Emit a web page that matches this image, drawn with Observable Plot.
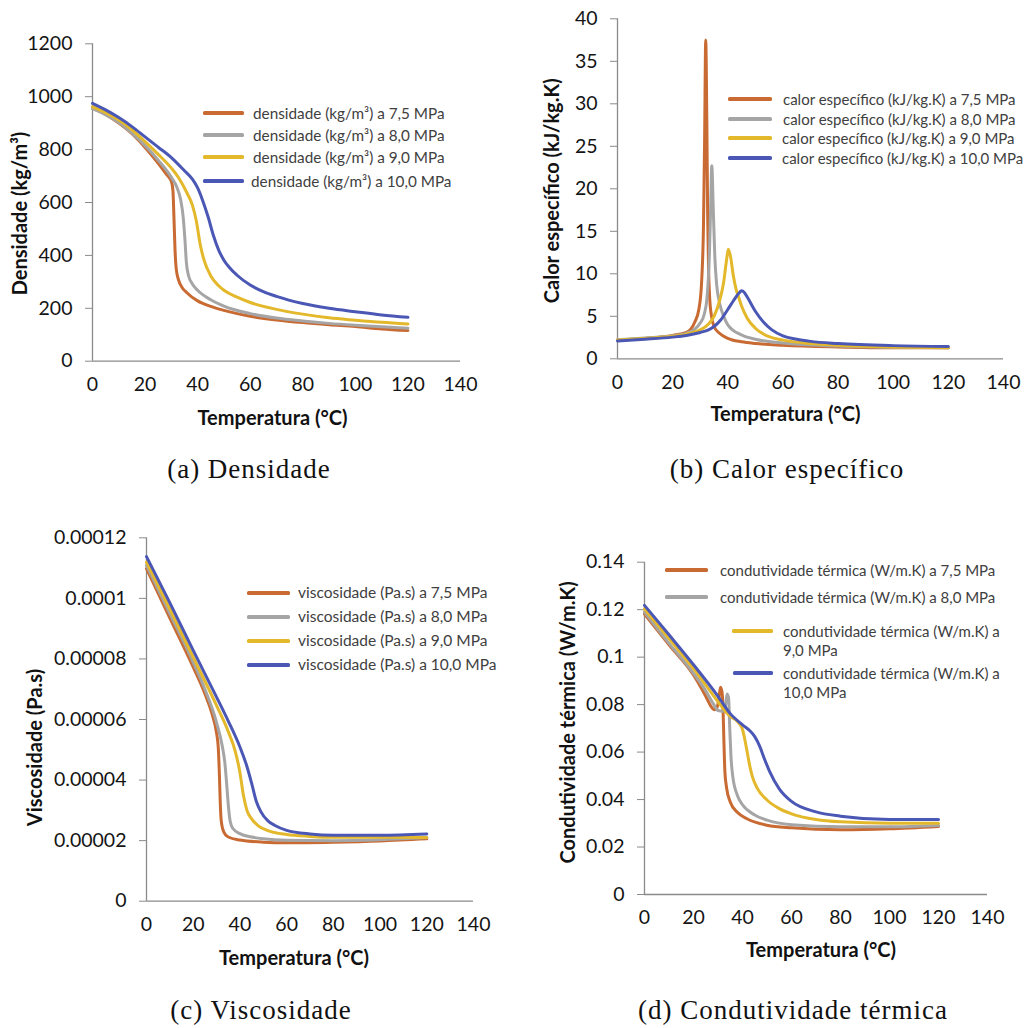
<!DOCTYPE html>
<html>
<head>
<meta charset="utf-8">
<script src="https://cdn.jsdelivr.net/npm/d3@7"></script>
<script src="https://cdn.jsdelivr.net/npm/@observablehq/plot@0.6"></script>
<style>
  html, body { margin: 0; padding: 0; background: #fff; }
  #root { position: relative; width: 1031px; height: 1028px; overflow: hidden; background: #fff; }
  .panel { position: absolute; }
  .legend { position: absolute; font-family: Lato, "Open Sans", sans-serif; color: #404040; white-space: nowrap; }
  .caption { position: absolute; font-family: "Liberation Serif", "DejaVu Serif", serif; font-size: 27px; line-height: 1; color: #111; letter-spacing: 1px; white-space: nowrap; transform: translateX(-50%); }
</style>
</head>
<body>
<div id="root"></div>
<script>
// ---------- DATA ----------
const pressures = ["7,5 MPa", "8,0 MPa", "9,0 MPa", "10,0 MPa"];
const seriesColors = ["#C86A32", "#A5A5A5", "#E4B82B", "#4B57B4"];
const xTicks = [0, 20, 40, 60, 80, 100, 120, 140];

// (a) Densidade (kg/m³) vs Temperatura (°C)
const dens75 = [[0,958],[5,933],[10,900],[15,860],[20,808],[25,748],[28,708],[30,680],[30.6,645],[31.0,540],[31.4,420],[31.9,345],[32.8,305],[34,280],[36,258],[40,228],[45,207],[50,192],[60,170],[70,156],[80,146],[90,138],[100,131],[110,122],[120,116]];
const dens80 = [[0,955],[5,932],[10,902],[15,862],[20,815],[25,760],[30,695],[32,660],[33.5,612],[34.5,545],[35.2,455],[35.7,375],[36.5,325],[38,292],[40,268],[45,232],[50,208],[60,180],[70,163],[80,152],[90,143],[100,136],[110,130],[120,125]];
const dens90 = [[0,962],[5,940],[10,912],[15,875],[20,830],[25,782],[30,730],[33,690],[36,635],[38,590],[39.5,530],[41,440],[42.5,380],[45,322],[48,285],[50,268],[55,242],[60,222],[70,196],[80,178],[90,164],[100,155],[110,147],[120,141]];
const dens100 = [[0,975],[5,950],[10,921],[15,887],[20,848],[25,809],[30,770],[35,720],[38,688],[40,655],[42,605],[44,545],[46,475],[48,420],[50,382],[52,355],[55,325],[60,288],[65,263],[70,245],[80,218],[90,200],[100,187],[110,175],[120,166]];
const densYTicks = [0, 200, 400, 600, 800, 1000, 1200];

// (b) Calor específico (kJ/kg.K)
const cp75 = [[0,2.2],[10,2.4],[20,2.75],[25,3.1],[28,4.3],[29.5,5.8],[30.5,9],[31.2,16],[31.6,26],[32,37.5],[32.4,28],[32.7,17],[33,11],[33.5,6.8],[34,5.2],[35,3.8],[37,3],[40,2.4],[45,2.0],[50,1.8],[60,1.6],[80,1.4],[100,1.3],[120,1.3]];
const cp80 = [[0,2.25],[10,2.45],[20,2.7],[25,3.0],[28,3.5],[30,4.2],[31.5,5.3],[32.5,7.3],[33.3,12],[33.8,18],[34.2,22.7],[34.7,18],[35.3,12],[36,8.6],[37,6.6],[38.5,5],[40,4],[45,2.8],[50,2.3],[60,1.85],[80,1.5],[100,1.35],[120,1.3]];
const cp90 = [[0,2.2],[10,2.4],[20,2.65],[25,2.9],[30,3.4],[33,4.1],[35,5],[37,6.8],[38.5,9],[39.5,11.5],[40.2,12.9],[41,12],[42,9.8],[43,8.2],[44,7.2],[45,6.2],[47,4.8],[50,3.6],[55,2.6],[60,2.2],[70,1.8],[80,1.6],[100,1.4],[120,1.3]];
const cp100 = [[0,2.1],[10,2.3],[20,2.55],[25,2.75],[30,3.1],[33,3.4],[35,3.8],[37.5,4.6],[40,5.8],[42,6.8],[44,7.7],[45,8],[46,7.8],[47,7.3],[50,5.6],[53,4.3],[56,3.4],[60,2.7],[65,2.3],[70,2.05],[80,1.8],[100,1.55],[120,1.45]];
const cpYTicks = [0, 5, 10, 15, 20, 25, 30, 35, 40];

// (c) Viscosidade (Pa.s)
const visc75 = [[0,10.98e-5],[10,9.35e-5],[20,7.73e-5],[25,6.85e-5],[28,6.2e-5],[30,5.55e-5],[30.7,5.1e-5],[31.2,4.2e-5],[31.6,3.2e-5],[32,2.65e-5],[33,2.3e-5],[35,2.12e-5],[40,2.02e-5],[50,1.95e-5],[60,1.93e-5],[80,1.95e-5],[100,1.99e-5],[120,2.06e-5]];
const visc80 = [[0,11.09e-5],[10,9.5e-5],[20,7.89e-5],[25,7.0e-5],[30,5.9e-5],[32.5,5.1e-5],[33.5,4.6e-5],[34.3,3.9e-5],[35,3.2e-5],[35.8,2.65e-5],[37,2.4e-5],[40,2.23e-5],[45,2.12e-5],[50,2.06e-5],[60,2.01e-5],[80,2.0e-5],[100,2.03e-5],[120,2.1e-5]];
const visc90 = [[0,11.2e-5],[10,9.65e-5],[20,8.06e-5],[30,6.46e-5],[35,5.6e-5],[38,4.95e-5],[40,4.25e-5],[41.5,3.5e-5],[43,3.0e-5],[45,2.72e-5],[48,2.48e-5],[52,2.33e-5],[60,2.2e-5],[70,2.14e-5],[80,2.11e-5],[100,2.11e-5],[120,2.1e-5]];
const visc100 = [[0,11.38e-5],[10,9.85e-5],[20,8.28e-5],[30,6.74e-5],[35,5.95e-5],[40,5.09e-5],[43,4.45e-5],[45,3.9e-5],[47,3.3e-5],[49,2.95e-5],[52,2.65e-5],[55,2.5e-5],[60,2.34e-5],[70,2.22e-5],[80,2.18e-5],[100,2.18e-5],[120,2.22e-5]];
const viscYTicks = [0, 0.00002, 0.00004, 0.00006, 0.00008, 0.0001, 0.00012];

// (d) Condutividade térmica (W/m.K)
const cond75 = [[0,0.1182],[10,0.1052],[20,0.0925],[25,0.0835],[27,0.0795],[28.5,0.0778],[29.5,0.0785],[30.3,0.082],[31,0.0873],[31.6,0.0855],[32,0.08],[32.4,0.065],[32.8,0.052],[33.5,0.045],[35,0.039],[38,0.0345],[42,0.0318],[50,0.0292],[60,0.0281],[80,0.0273],[100,0.0277],[120,0.0287]];
const cond80 = [[0,0.119],[10,0.1058],[20,0.0932],[25,0.0858],[28,0.0805],[30,0.0775],[32,0.0772],[33,0.079],[33.7,0.0845],[34.3,0.083],[34.8,0.07],[35.3,0.058],[36,0.05],[38,0.0415],[40,0.0378],[45,0.0335],[50,0.0313],[60,0.0294],[80,0.0285],[100,0.0285],[120,0.0291]];
const cond90 = [[0,0.1203],[10,0.1078],[20,0.0952],[30,0.0812],[33,0.0772],[35,0.075],[38,0.0728],[40,0.0695],[41,0.065],[42,0.0595],[43,0.054],[44,0.0498],[46,0.0448],[50,0.0398],[55,0.0362],[60,0.034],[70,0.0316],[80,0.0306],[100,0.03],[120,0.03]];
const cond100 = [[0,0.1218],[10,0.1094],[20,0.0968],[30,0.0835],[35,0.0762],[40,0.0715],[43,0.069],[45,0.0665],[47,0.0625],[49,0.057],[51,0.052],[55,0.0445],[60,0.0392],[70,0.0348],[80,0.033],[100,0.0316],[120,0.0316]];
const condYTicks = [0, 0.02, 0.04, 0.06, 0.08, 0.1, 0.12, 0.14];

const xLabel = "Temperatura (°C)";

// ---------- BUILD ----------
const root = document.getElementById("root");
const fmtNum = d => d === 0 ? "0" : String(+d.toFixed(6));

function makePanel(cfg) {
  const names = pressures.map(p => cfg.legendPrefix + " a " + p);
  const rows = [];
  cfg.series.forEach((arr, i) => arr.forEach(([t, v]) => rows.push({t, v, s: names[i]})));
  const W = cfg.W, H = cfg.H;
  const mL = cfg.yaxisX - cfg.L, mR = cfg.L + W - cfg.x140;
  const mT = cfg.yTopPx - cfg.T, mB = cfg.T + H - cfg.y0Px;
  const svg = Plot.plot({
    width: W, height: H,
    marginLeft: mL, marginRight: mR, marginTop: mT, marginBottom: mB,
    style: {fontFamily: "Lato, 'Open Sans', sans-serif", fontSize: "19px", background: "transparent", overflow: "visible"},
    x: {domain: [0, 140]},
    y: {domain: [cfg.yTicks[0], cfg.yTicks[cfg.yTicks.length - 1]]},
    color: {domain: names, range: seriesColors},
    marks: [
      Plot.axisY({ticks: cfg.yTicks, tickFormat: fmtNum, tickSize: 7, tickPadding: 13, stroke: "#8a8a8a", fill: "#141414", fontSize: cfg.tickFont, label: null}),
      Plot.axisX({ticks: xTicks, tickFormat: fmtNum, tickSize: 0, tickPadding: 16, fill: "#141414", fontSize: cfg.tickFont, label: null}),
      Plot.ruleY([cfg.yTicks[0]], {stroke: "#8a8a8a", strokeWidth: 1.3}),
      Plot.ruleX([0], {stroke: "#8a8a8a", strokeWidth: 1.3}),
      Plot.line(rows, {x: "t", y: "v", z: "s", stroke: "s", strokeWidth: 3, curve: "monotone-x", strokeLinejoin: "round", strokeLinecap: "round"}),
      Plot.text([xLabel], {frameAnchor: "bottom", textAnchor: "middle", dx: cfg.xLab[0], dy: cfg.xLab[1], fontWeight: "bold", fontSize: 20, fill: "#111"}),
      Plot.text([cfg.yLabel], {frameAnchor: "left", textAnchor: "middle", rotate: -90, dx: cfg.yLab[0], dy: cfg.yLab[1], fontWeight: "bold", fontSize: 20, fill: "#111"})
    ]
  });
  const wrap = document.createElement("div");
  wrap.className = "panel";
  wrap.style.left = cfg.L + "px";
  wrap.style.top = cfg.T + "px";
  wrap.appendChild(svg);
  root.appendChild(wrap);

  // legend (HTML)
  cfg.legend.forEach((it, i) => {
    const sw = document.createElement("div");
    sw.style.cssText = `position:absolute;left:${it.sx}px;top:${it.y - 1.6}px;width:${it.sw}px;height:3.2px;background:${seriesColors[i]};border-radius:1.5px;`;
    root.appendChild(sw);
    const lines = it.lines || [names[i]];
    lines.forEach((ln, k) => {
      const tx = document.createElement("div");
      tx.className = "legend";
      tx.style.cssText += `left:${it.tx}px;top:${it.y + k * (it.lh || 18) - cfg.legendFont * 0.62}px;font-size:${cfg.legendFont}px;line-height:${cfg.legendFont * 1.2}px;`;
      tx.textContent = ln;
      root.appendChild(tx);
    });
  });

  const cap = document.createElement("div");
  cap.className = "caption";
  cap.style.left = cfg.cap[0] + "px";
  cap.style.top = cfg.cap[1] + "px";
  cap.textContent = cfg.caption;
  root.appendChild(cap);
}

makePanel({
  L: 0, T: 0, W: 515, H: 440, yaxisX: 92, x140: 460, yTopPx: 43.3, y0Px: 360.7,
  yTicks: densYTicks, series: [dens75, dens80, dens90, dens100],
  legendPrefix: "densidade (kg/m³)", yLabel: "Densidade (kg/m³)",
  xLab: [-4, 64], yLab: [-72, 11], tickFont: 19.5, legendFont: 15.3,
  legend: [
    {sx: 203, sw: 41, tx: 253, y: 113},
    {sx: 203, sw: 41, tx: 253, y: 135},
    {sx: 203, sw: 41, tx: 253, y: 157},
    {sx: 203, sw: 41, tx: 251, y: 181}
  ],
  caption: "(a) Densidade", cap: [249, 456]
});

makePanel({
  L: 515, T: 0, W: 516, H: 440, yaxisX: 617, x140: 1003, yTopPx: 18.3, y0Px: 358.3,
  yTicks: cpYTicks, series: [cp75, cp80, cp90, cp100],
  legendPrefix: "calor específico (kJ/kg.K)", yLabel: "Calor específico (kJ/kg.K)",
  xLab: [-25, 62], yLab: [-65, 2], tickFont: 19.5, legendFont: 15,
  legend: [
    {sx: 728, sw: 44, tx: 783, y: 99},
    {sx: 728, sw: 44, tx: 783, y: 119},
    {sx: 728, sw: 44, tx: 782, y: 138},
    {sx: 728, sw: 44, tx: 782, y: 158}
  ],
  caption: "(b) Calor específico", cap: [787, 456]
});

makePanel({
  L: 0, T: 500, W: 515, H: 490, yaxisX: 146, x140: 473, yTopPx: 537.3, y0Px: 900.7,
  yTicks: viscYTicks, series: [visc75, visc80, visc90, visc100],
  legendPrefix: "viscosidade (Pa.s)", yLabel: "Viscosidade (Pa.s)",
  xLab: [-16, 64], yLab: [-111, 28], tickFont: 19.5, legendFont: 15.5,
  legend: [
    {sx: 247, sw: 43, tx: 298, y: 593},
    {sx: 247, sw: 43, tx: 298, y: 617},
    {sx: 247, sw: 43, tx: 298, y: 641},
    {sx: 247, sw: 43, tx: 298, y: 665}
  ],
  caption: "(c) Viscosidade", cap: [261, 997]
});

makePanel({
  L: 515, T: 500, W: 516, H: 490, yaxisX: 644, x140: 987, yTopPx: 561.7, y0Px: 894,
  yTicks: condYTicks, series: [cond75, cond80, cond90, cond100],
  legendPrefix: "condutividade térmica (W/m.K)", yLabel: "Condutividade térmica (W/m.K)",
  xLab: [5, 62], yLab: [-76, -6], tickFont: 19.5, legendFont: 15,
  legend: [
    {sx: 665, sw: 43, tx: 720, y: 570},
    {sx: 665, sw: 43, tx: 720, y: 597},
    {sx: 732, sw: 41, tx: 783, y: 631, lh: 19, lines: ["condutividade térmica (W/m.K) a", "9,0 MPa"]},
    {sx: 733, sw: 40, tx: 783, y: 673, lh: 19, lines: ["condutividade térmica (W/m.K) a", "10,0 MPa"]}
  ],
  caption: "(d) Condutividade térmica", cap: [793, 997]
});
</script>
</body>
</html>
